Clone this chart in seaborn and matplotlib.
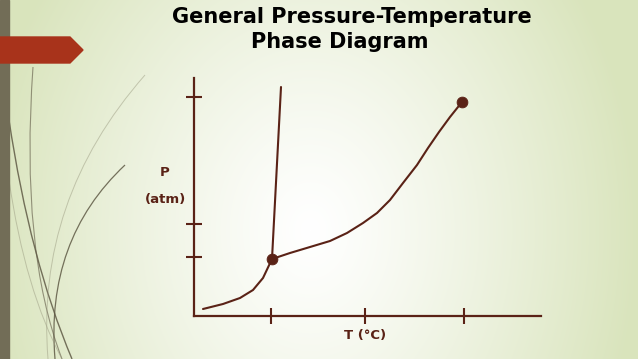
import numpy as np
import pandas as pd
import matplotlib
matplotlib.use("Agg")
import matplotlib.pyplot as plt
from matplotlib.path import Path
from matplotlib.patches import PathPatch, Polygon, Rectangle
import seaborn as sns

# ---------------- data (arbitrary units) ----------------
sub_T = [9, 29, 46, 59, 69, 78]
sub_P = [7, 12, 18, 26, 38, 57]
vap_T = [78, 96, 116, 136, 153, 169, 183, 196, 209, 223, 234, 245, 256, 268]
vap_P = [57, 63, 69, 75, 83, 93, 103, 116, 133, 151, 168, 184, 199, 214]
fus_T = [78, 87]
fus_P = [57, 229]
pts_T = [78, 268]          # triple point, critical point
pts_P = [57, 214]
x_ticks = [77, 171, 270]
y_ticks = [59, 92, 219]
title_lines = ["General Pressure-Temperature", "Phase Diagram"]
y_label = ["P", "(atm)"]
x_label = "T (°C)"

BROWN = "#5a2216"
W, H = 638, 359

sns.set_theme(style="white")
plt.rcParams["font.family"] = ["DejaVu Sans"]

fig = plt.figure(figsize=(W / 100, H / 100), dpi=100)

# ---------------- slide background ----------------
bg = fig.add_axes([0, 0, 1, 1])
bg.set_xlim(0, W)
bg.set_ylim(H, 0)
bg.axis("off")
yy, xx = np.mgrid[0:H, 0:W]
d = np.sqrt(((xx - 310) / 330.0) ** 2 + ((yy - 230) / 420.0) ** 2)
t = np.clip(d, 0, 1) ** 1.2
white = np.array([1.0, 1.0, 1.0])
green = np.array([0xd9, 0xe4, 0xbc]) / 255.0
img = white[None, None, :] * (1 - t[..., None]) + green[None, None, :] * t[..., None]
bg.imshow(img, extent=[0, W, H, 0], aspect="auto", zorder=0)

# decorative curves
def bez(p0, p1, p2, color, lw, alpha):
    path = Path([p0, p1, p2], [Path.MOVETO, Path.CURVE3, Path.CURVE3])
    bg.add_patch(PathPatch(path, fill=False, edgecolor=color, lw=lw, alpha=alpha, zorder=1))

bez((33, 67), (20, 250), (62, 359), "#6f6a55", 0.8, 0.7)
bez((9, 120), (30, 260), (72, 359), "#5f5a45", 1.0, 0.85)
bez((125, 165), (45, 240), (55, 359), "#5f5a45", 0.9, 0.85)
bez((145, 75), (35, 200), (48, 359), "#9a9a80", 0.7, 0.5)
bez((9, 180), (25, 290), (62, 359), "#9a9a80", 0.7, 0.5)

bg.add_patch(Rectangle((0, 0), 9, H, color="#726d57", zorder=2))
bg.add_patch(Polygon([(0, 37), (70, 37), (83, 50), (70, 63), (0, 63)],
                     closed=True, color="#a8331b", zorder=3))

# texts
bg.text(352, 17, title_lines[0], ha="center", va="center", fontsize=15,
        fontweight="bold", color="black", zorder=5)
bg.text(340, 42, title_lines[1], ha="center", va="center", fontsize=15,
        fontweight="bold", color="black", zorder=5)
bg.text(165, 173, y_label[0], ha="center", va="center", fontsize=9.5,
        fontweight="bold", color=BROWN, zorder=5)
bg.text(165, 199, y_label[1], ha="center", va="center", fontsize=9.5,
        fontweight="bold", color=BROWN, zorder=5)
bg.text(365, 336, x_label, ha="center", va="center", fontsize=9.5,
        fontweight="bold", color=BROWN, zorder=5)

# ---------------- chart ----------------
x0, x1, y0, y1 = 194, 541, 316, 78
ax = fig.add_axes([x0 / W, (H - y0) / H, (x1 - x0) / W, (y0 - y1) / H])
ax.patch.set_alpha(0)
ax.set_xlim(0, x1 - x0)
ax.set_ylim(0, y0 - y1)

sub_df = pd.DataFrame({"T": sub_T, "P": sub_P})
vap_df = pd.DataFrame({"T": vap_T, "P": vap_P})
fus_df = pd.DataFrame({"T": fus_T, "P": fus_P})
pts_df = pd.DataFrame({"T": pts_T, "P": pts_P})

for df in (sub_df, vap_df, fus_df):
    sns.lineplot(data=df, x="T", y="P", sort=False, estimator=None, ax=ax,
                 color=BROWN, lw=1.5, clip_on=False)
sns.scatterplot(data=pts_df, x="T", y="P", ax=ax, color=BROWN, s=60,
                edgecolor=BROWN, zorder=5, clip_on=False)

for side in ("top", "right"):
    ax.spines[side].set_visible(False)
for side in ("left", "bottom"):
    ax.spines[side].set_color(BROWN)
    ax.spines[side].set_linewidth(1.6)

ax.set_xticks(x_ticks)
ax.set_yticks(y_ticks)
ax.set_xticklabels([])
ax.set_yticklabels([])
ax.tick_params(axis="both", direction="inout", length=12, width=1.5,
               color=BROWN, left=True, bottom=True)
ax.set_xlabel("")
ax.set_ylabel("")
ax.grid(False)

fig.savefig("out.png", dpi=100)
